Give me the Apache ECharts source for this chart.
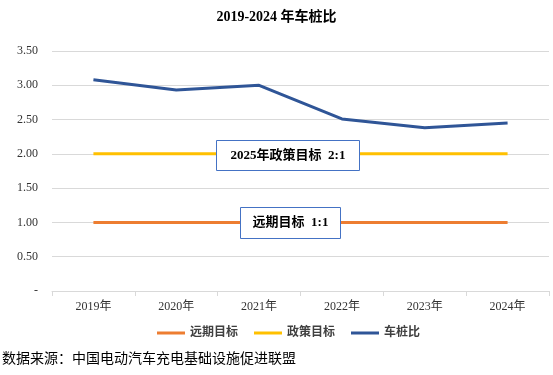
<!DOCTYPE html>
<html lang="zh">
<head>
    <meta charset="utf-8" />
    <title>2019-2024 年车桩比</title>
    <style>
        html, body { margin: 0; padding: 0; background: #fff; }
        #main { width: 553px; height: 375px; }
    </style>
</head>
<body>
    <div id="main"></div>
    <script src="https://cdn.jsdelivr.net/npm/echarts@6/dist/echarts.min.js"></script>
    <script>
    // 数据
    var years = ["2019年", "2020年", "2021年", "2022年", "2023年", "2024年"];
    var longTarget = [1, 1, 1, 1, 1, 1];
    var policyTarget = [2, 2, 2, 2, 2, 2];
    var carPileRatio = [3.08, 2.93, 3.00, 2.51, 2.38, 2.45];

    var serif = "Liberation Serif, 'Noto Sans CJK SC', serif";
    var myChart = echarts.init(document.getElementById("main"));
    var option = {
        backgroundColor: "#fff",
        animation: false,
        title: {
            text: "2019-2024 年车桩比",
            left: "center",
            top: 5,
            textStyle: { fontFamily: serif, fontSize: 14, fontWeight: "bold", color: "#000" }
        },
        grid: { left: 52, right: 4, top: 51, bottom: 84 },
        legend: {
            bottom: 31,
            left: 152,
            itemWidth: 28,
            itemHeight: 3,
            itemGap: 16,
            icon: "rect",
            textStyle: { fontFamily: serif, fontSize: 12, fontWeight: "bold", color: "#404040" },
            data: ["远期目标", "政策目标", "车桩比"]
        },
        xAxis: {
            type: "category",
            data: years,
            boundaryGap: true,
            axisLine: { lineStyle: { color: "#d9d9d9" } },
            axisTick: { show: true, length: 5, lineStyle: { color: "#d9d9d9" } },
            axisLabel: { fontFamily: serif, fontSize: 12, color: "#333", margin: 10 }
        },
        yAxis: {
            type: "value",
            min: 0,
            max: 3.5,
            interval: 0.5,
            axisLine: { show: false },
            axisTick: { show: false },
            splitLine: { lineStyle: { color: "#d9d9d9" } },
            axisLabel: {
                fontFamily: serif, fontSize: 12, color: "#333", margin: 14,
                formatter: function (v) { return v === 0 ? "-" : v.toFixed(2); }
            }
        },
        series: [
            { name: "远期目标", type: "line", data: longTarget, symbol: "none",
              lineStyle: { width: 3, color: "#ED7D31" }, itemStyle: { color: "#ED7D31" } },
            { name: "政策目标", type: "line", data: policyTarget, symbol: "none",
              lineStyle: { width: 3, color: "#FFC000" }, itemStyle: { color: "#FFC000" } },
            { name: "车桩比", type: "line", data: carPileRatio, symbol: "none",
              lineStyle: { width: 3, color: "#2F5597" }, itemStyle: { color: "#2F5597" } }
        ],
        graphic: [
            { type: "group", left: 216, top: 140, z: 100, children: [
                { type: "rect", z: 100, shape: { x: 0, y: 0, width: 143, height: 30 },
                  style: { fill: "#fff", stroke: "#4472C4", lineWidth: 1 } },
                { type: "text", z: 101, x: 71.5, y: 15,
                  style: { text: "2025年政策目标  2:1", align: "center", verticalAlign: "middle",
                           font: "bold 13px " + serif, fill: "#000" } }
            ] },
            { type: "group", left: 240, top: 207, z: 100, children: [
                { type: "rect", z: 100, shape: { x: 0, y: 0, width: 100, height: 31 },
                  style: { fill: "#fff", stroke: "#4472C4", lineWidth: 1 } },
                { type: "text", z: 101, x: 50, y: 15.5,
                  style: { text: "远期目标  1:1", align: "center", verticalAlign: "middle",
                           font: "bold 13px " + serif, fill: "#000" } }
            ] },
            { type: "text", left: 2, top: 351,
              style: { text: "数据来源：中国电动汽车充电基础设施促进联盟",
                       font: "14px 'Noto Sans CJK SC', sans-serif", fill: "#000" } }
        ]
    };
    myChart.setOption(option);
    </script>
</body>
</html>
